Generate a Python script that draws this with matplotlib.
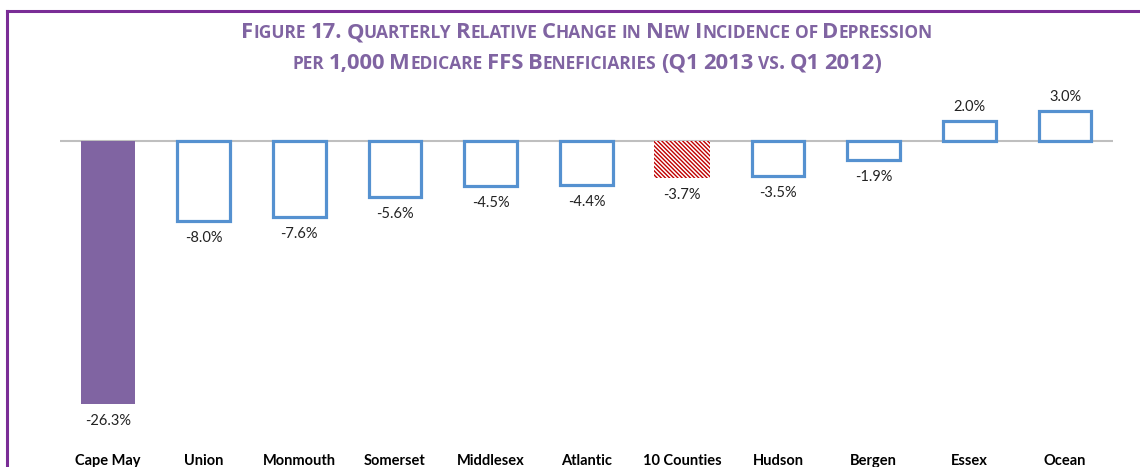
import numpy as np
import matplotlib
matplotlib.use("Agg")
from matplotlib import pyplot as plt
from matplotlib.lines import Line2D

# data
counties = ["Cape May", "Union", "Monmouth", "Somerset", "Middlesex", "Atlantic",
            "10 Counties", "Hudson", "Bergen", "Essex", "Ocean"]
change = [-26.3, -8.0, -7.6, -5.6, -4.5, -4.4, -3.7, -3.5, -1.9, 2.0, 3.0]
title_lines = ["Figure 17. Quarterly Relative Change in New Incidence of Depression",
               "per 1,000 Medicare FFS Beneficiaries (Q1 2013 vs. Q1 2012)"]

purple = "#8064A2"
blue = "#5591D0"
red = "#C00000"

plt.rcParams["font.family"] = ["Lato", "DejaVu Sans"]
plt.rcParams["hatch.linewidth"] = 1.0

fig = plt.figure(figsize=(11.4, 4.67), dpi=100)
ax = fig.add_axes([60 / 1140, 26 / 467, 1053 / 1140, 350 / 467])

x = np.arange(len(counties))
for i, v in enumerate(change):
    if counties[i] == "Cape May":
        ax.bar(i, v, width=0.56, color=purple, linewidth=0)
    elif counties[i] == "10 Counties":
        ax.bar(i, v, width=0.58, color="white", edgecolor=red, hatch="\\\\\\\\\\\\\\\\", linewidth=0)
    else:
        ax.bar(i, v, width=0.55, facecolor="none", edgecolor=blue, linewidth=2.3)
    if v < 0:
        ax.annotate(f"{v:.1f}%", (i, v), xytext=(0, -7), textcoords="offset points",
                    ha="center", va="top", fontsize=10.5, color="#222222")
    else:
        ax.annotate(f"{v:.1f}%", (i, v), xytext=(0, 5), textcoords="offset points",
                    ha="center", va="bottom", fontsize=10.5, color="#222222")

ax.axhline(0, color="#BFBFBF", linewidth=1.5, zorder=0)
ax.set_xlim(-0.5, len(counties) - 0.5)
ax.set_ylim(-30, 5)
ax.set_xticks(x)
ax.set_xticklabels(counties, fontweight="bold", fontsize=10.5)
ax.tick_params(axis="x", length=0, pad=9.5)
ax.set_yticks([])
for s in ax.spines.values():
    s.set_visible(False)

# purple frame
fig.add_artist(Line2D([7 / 1140, 1], [1 - 11 / 467, 1 - 11 / 467], color="#7A2D96", linewidth=2.2))
fig.add_artist(Line2D([7 / 1140, 7 / 1140], [0, 1 - 11 / 467], color="#7A2D96", linewidth=2.2))

# small caps title
big, small = 15.8, 12.5
tfont = ["Open Sans", "DejaVu Sans"]
renderer = fig.canvas.get_renderer()


def measure(s, size):
    t = fig.text(0, 0, s, fontsize=size, fontweight="bold", family=tfont)
    w = t.get_window_extent(renderer).width
    t.remove()
    return w


space = measure("x x", small) - measure("xx", small)


def split_runs(word):
    out = []
    for ch in word:
        is_big = not ch.islower()
        if out and out[-1][1] == is_big:
            out[-1][0] += ch
        else:
            out.append([ch, is_big])
    return [(s.upper(), b) for s, b in out]


for line, yc in zip(title_lines, [31, 62]):
    pieces = []
    xpos = 0
    for k, word in enumerate(line.split(" ")):
        if k > 0:
            xpos += space
        for s, b in split_runs(word):
            size = big if b else small
            w = measure(s, size)
            pieces.append((xpos, s, size))
            xpos += w
    x0 = 587 - xpos / 2
    for px, s, size in pieces:
        fig.text((x0 + px) / 1140, 1 - (yc + 7) / 467, s, fontsize=size, fontweight="bold",
                 family=tfont, color=purple, ha="left", va="baseline")

fig.savefig("out.png", dpi=100)
